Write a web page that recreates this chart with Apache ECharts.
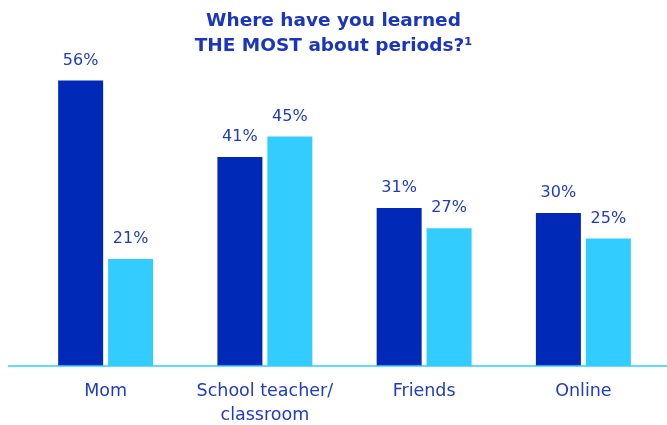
<!DOCTYPE html>
<html><head><meta charset="utf-8">
<script src="https://cdn.jsdelivr.net/npm/echarts@6/dist/echarts.min.js"></script>
<style>html,body{margin:0;padding:0;background:#fff;overflow:hidden}#c{width:667px;height:425px}</style>
</head><body><div id="c"></div>
<script>
const categories = ['Mom', 'School teacher/\nclassroom', 'Friends', 'Online'];
const seriesA = [56, 41, 31, 30];
const seriesB = [21, 45, 27, 25];
const titleLines = 'Where have you learned\nTHE MOST about periods?¹';

const textColor = '#1f3bbf';
const font = 'DejaVu Sans';
const chart = echarts.init(document.getElementById('c'), null, {renderer: 'canvas', width: 667, height: 425});
const labelCfg = {show: true, position: 'top', distance: 12, formatter: '{c}%', color: textColor, fontSize: 16, fontFamily: font};
chart.setOption({
  animation: false,
  title: {text: titleLines, left: 'center', top: 4, textStyle: {color: '#1a35c0', fontSize: 18.5, fontWeight: 'bold', fontFamily: font, lineHeight: 25}},
  grid: {left: 26, right: 4, top: 60, bottom: 59, outerBoundsMode: 'none', containLabel: false},
  xAxis: {type: 'category', data: categories, axisLine: {show: false}, axisTick: {show: false},
    axisLabel: {interval: 0, color: textColor, fontSize: 17.5, fontFamily: font, lineHeight: 24, margin: 13}},
  yAxis: {type: 'value', min: 0, max: 60, show: false, splitLine: {show: false}},
  series: [
    {type: 'bar', data: seriesA, barWidth: 45, barGap: '11%', itemStyle: {color: '#0029b8'}, label: labelCfg},
    {type: 'bar', data: seriesB, barWidth: 45, itemStyle: {color: '#33ccff'}, label: labelCfg}
  ]
});
const y0 = chart.convertToPixel({gridIndex: 0}, [0, 0])[1];
chart.setOption({
  graphic: [{type: 'line', shape: {x1: 8, y1: y0, x2: 667, y2: y0}, style: {stroke: '#33ccff', lineWidth: 1.5}, z: 10}]
});
</script></body></html>
